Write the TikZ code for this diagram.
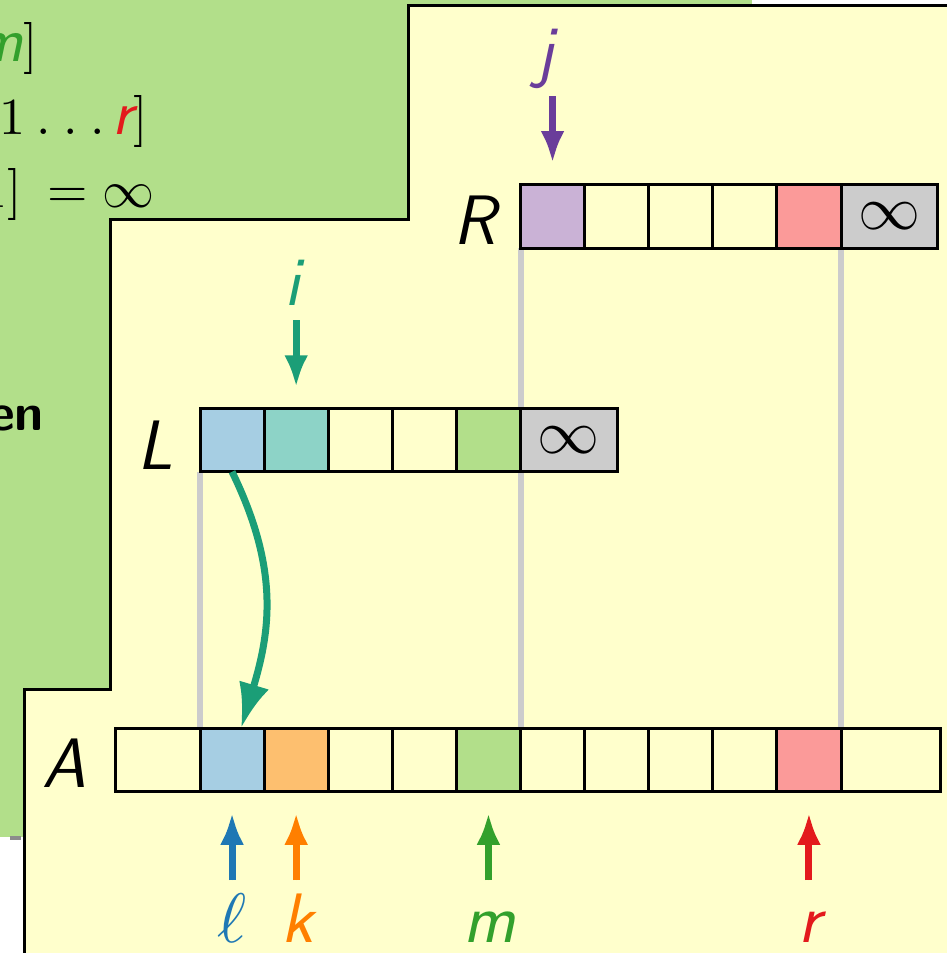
\documentclass[tikz,border=0pt]{standalone}
\usetikzlibrary{arrows.meta,backgrounds}
\definecolor{bgyellow}{HTML}{FFFFCC}
\definecolor{pgreen}{HTML}{B2DF8A}
\definecolor{cblue}{HTML}{1F78B4}
\definecolor{lblue}{HTML}{A6CEE3}
\definecolor{corange}{HTML}{FF7F00}
\definecolor{lorange}{HTML}{FDBF6F}
\definecolor{cgreen}{HTML}{33A02C}
\definecolor{cred}{HTML}{E31A1C}
\definecolor{lred}{HTML}{FB9A99}
\definecolor{cpurple}{HTML}{6A3D9A}
\definecolor{lpurple}{HTML}{CAB2D6}
\definecolor{cteal}{HTML}{1B9E77}
\definecolor{lteal}{HTML}{8DD3C7}
\definecolor{lgray}{HTML}{CCCCCC}
\newcommand{\lbl}[1]{{\fontsize{70}{80}\selectfont\sffamily\itshape #1}}
\newcommand{\glet}[1]{{\fontsize{64}{70}\selectfont\sffamily\itshape #1}}
\newcommand{\mth}[2]{\scalebox{#1}{\fontsize{10}{12}\selectfont$#2$}}
\begin{document}
\begin{tikzpicture}[x=1pt,y=-1pt,
  cell/.style={draw=black, line width=3pt, minimum height=63.5pt, inner sep=0pt, outer sep=0pt, anchor=center},
  ptr/.style={line width=7pt, -{Latex[length=32pt,width=24pt]}},
  curv/.style={line width=7pt, draw=cteal, -{Latex[length=45pt,width=31pt]}},
  gline/.style={line width=6pt, draw=lgray},
  big/.style={inner sep=0pt},
  gtext/.style={inner sep=0pt, anchor=base east},
  infcell/.style={cell, fill=lgray}]
\useasboundingbox (0,0) rectangle (946,953);
\begin{scope}[on background layer]
  \fill[white] (0,0) rectangle (946,953);
  \fill[pgreen] (-20,-20) rectangle (752,837);
  \fill[gray!90] (10,836) rectangle (21,840);
  \filldraw[fill=bgyellow, draw=black, line width=3.5pt]
    (408.5,5.5) -- (970,5.5) -- (970,980) -- (24.5,980) -- (24.5,689.5)
    -- (110.5,689.5) -- (110.5,219.5) -- (408.5,219.5) -- cycle;
\end{scope}
\clip (0,0) rectangle (946,953);

% text in the green panel
\node[gtext] (t1) at (38,61) {\glet{\color{cgreen}m}\mth{5.2}{]}};
\node[gtext] (t2) at (148,134) {\mth{5.2}{1\mkern4mu.\mkern4.3mu.\mkern4.3mu.\mkern2.8mu}\glet{\color{cred}r}\mth{5.2}{]}};
\node[gtext] (t3) at (155,207) {\mth{5.2}{1]\mkern4mu=\infty}};
\node[gtext, font=\fontsize{52}{60}\selectfont\sffamily\bfseries] (t4) at (44,430) {en};

% array R
\node[cell, fill=lpurple, minimum width=64.1pt] (R1) at (552.55,216.25) {};
\node[cell, minimum width=64.1pt] (R2) at (616.65,216.25) {};
\node[cell, minimum width=64.1pt] (R3) at (680.75,216.25) {};
\node[cell, minimum width=64.1pt] (R4) at (744.85,216.25) {};
\node[cell, fill=lred, minimum width=64.1pt] (R5) at (808.95,216.25) {};
\node[infcell, minimum width=96pt] (R6) at (889,216.25) {\mth{6.2}{\infty}};

% array L
\node[cell, fill=lblue, minimum width=64.1pt] (L1) at (232.05,440) {};
\node[cell, fill=lteal, minimum width=64.1pt] (L2) at (296.15,440) {};
\node[cell, minimum width=64.1pt] (L3) at (360.25,440) {};
\node[cell, minimum width=64.1pt] (L4) at (424.35,440) {};
\node[cell, fill=pgreen, minimum width=64.1pt] (L5) at (488.45,440) {};
\node[infcell, minimum width=96.5pt] (L6) at (568.75,440) {\mth{6.2}{\infty}};

% array A
\node[cell, minimum width=85pt] (A1) at (157.5,760) {};
\node[cell, fill=lblue, minimum width=64.1pt] (A2) at (232.05,760) {};
\node[cell, fill=lorange, minimum width=64.1pt] (A3) at (296.15,760) {};
\node[cell, minimum width=64.1pt] (A4) at (360.25,760) {};
\node[cell, minimum width=64.1pt] (A5) at (424.35,760) {};
\node[cell, fill=pgreen, minimum width=64.1pt] (A6) at (488.45,760) {};
\node[cell, minimum width=64.1pt] (A7) at (552.55,760) {};
\node[cell, minimum width=64.1pt] (A8) at (616.65,760) {};
\node[cell, minimum width=64.1pt] (A9) at (680.75,760) {};
\node[cell, minimum width=64.1pt] (A10) at (744.85,760) {};
\node[cell, fill=lred, minimum width=64.1pt] (A11) at (808.95,760) {};
\node[cell, minimum width=99pt] (A12) at (890.5,760) {};

% gray guide lines (behind the cells)
\begin{scope}[on background layer]
  \draw[gline] (L1.south west) -- (A2.north west);
  \draw[gline] (R1.south west) -- (A7.north west);
  \draw[gline] (R6.south west) -- (A12.north west);
\end{scope}

% array names
\node[big, anchor=base east] (nR) at (496,244) {\lbl{R}};
\node[big, anchor=base east] (nL) at (173,469) {\lbl{L}};
\node[big, anchor=base east] (nA) at (86,787) {\lbl{A}};

% index labels
\node[big, anchor=base, text=cpurple] (lj) at (545,74) {\lbl{j}};
\node[big, anchor=base, text=cteal] (li) at (292,305) {\lbl{i}};
\node[big, anchor=base, text=cblue] (ll) at (232,942) {\mth{7}{\ell}};
\node[big, anchor=base, text=corange] (lk) at (298,942) {\lbl{k}};
\node[big, anchor=base, text=cgreen] (lm) at (490,942) {\lbl{m}};
\node[big, anchor=base, text=cred] (lr) at (810,942) {\lbl{r}};

% pointer arrows
\coordinate (jf) at (552.55,96);
\coordinate (if) at (296.15,320);
\coordinate (lf) at (232.05,880);
\coordinate (kf) at (296.15,880);
\coordinate (mf) at (488.45,880);
\coordinate (rf) at (808.95,880);
\draw[ptr, draw=cpurple, fill=cpurple, shorten >=21.5pt] (jf) -- (R1.north);
\draw[ptr, draw=cteal, fill=cteal, shorten >=21pt] (if) -- (L2.north);
\draw[ptr, draw=cblue, fill=cblue, shorten >=21pt] (lf) -- (A2.south);
\draw[ptr, draw=corange, fill=corange, shorten >=21pt] (kf) -- (A3.south);
\draw[ptr, draw=cgreen, fill=cgreen, shorten >=21pt] (mf) -- (A6.south);
\draw[ptr, draw=cred, fill=cred, shorten >=21pt] (rf) -- (A11.south);

% curved copy arrow
\draw[curv] (L1.south) .. controls (280,570) and (270,632) .. ([xshift=9pt]A2.north);
\end{tikzpicture}
\end{document}
